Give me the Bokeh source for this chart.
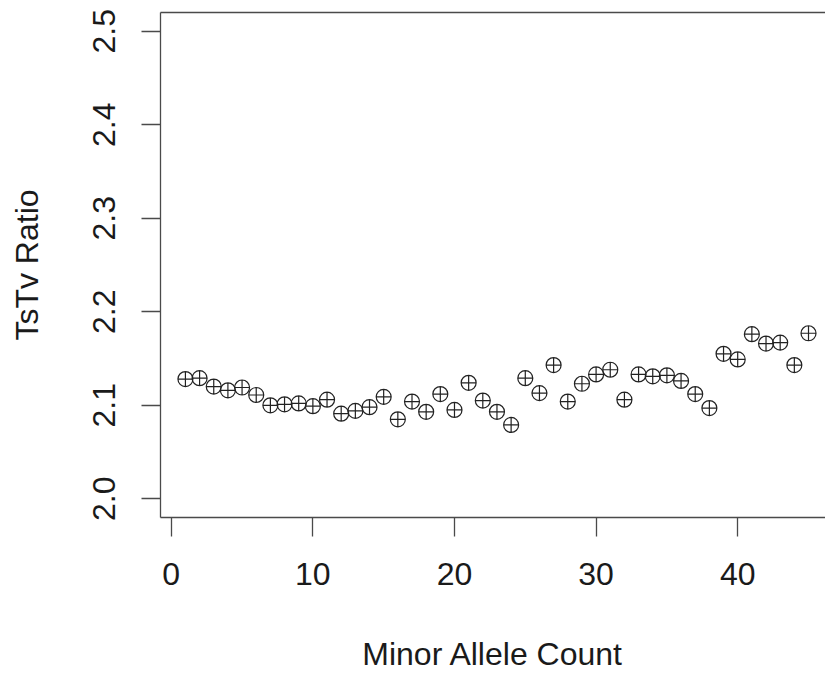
import math
from bokeh.plotting import figure
from bokeh.models import LinearAxis, FixedTicker, Range1d, ColumnDataSource
from bokeh.embed import file_html
from bokeh.resources import INLINE

# Data
minor_allele_count = list(range(1, 46))
tstv_ratio = [
    2.128, 2.129, 2.120, 2.116, 2.119, 2.111, 2.100, 2.101, 2.102, 2.099,
    2.106, 2.091, 2.094, 2.098, 2.109, 2.085, 2.104, 2.093, 2.112, 2.095,
    2.124, 2.105, 2.093, 2.079, 2.129, 2.113, 2.143, 2.104, 2.123, 2.133,
    2.138, 2.106, 2.133, 2.131, 2.132, 2.126, 2.112, 2.097, 2.155, 2.149,
    2.176, 2.166, 2.167, 2.143, 2.177,
]
x_ticks = [0, 10, 20, 30, 40]
y_ticks = [2.0, 2.1, 2.2, 2.3, 2.4, 2.5]
y_tick_labels = ["2.0", "2.1", "2.2", "2.3", "2.4", "2.5"]

FONT = "Liberation Sans"
FS = "32px"
AX = "#4a4a4a"

p = figure(width=825, height=675, output_backend="svg", toolbar_location=None,
           x_axis_location=None, y_axis_location=None,
           x_range=Range1d(-0.76, 46.2), y_range=Range1d(1.98, 2.52),
           min_border_left=160, min_border_right=0, min_border_top=12,
           min_border_bottom=158)
p.grid.visible = False
p.outline_line_color = None
p.background_fill_color = "white"
p.border_fill_color = "white"

def style(ax):
    ax.axis_line_color = AX
    ax.axis_line_width = 1.3
    ax.major_tick_line_color = AX
    ax.major_tick_line_width = 1.3
    ax.major_tick_out = 19
    ax.major_tick_in = 0
    ax.minor_tick_line_color = None
    ax.major_label_text_font = FONT
    ax.major_label_text_font_size = FS
    ax.major_label_text_color = "#1a1a1a"
    ax.axis_label_text_font = FONT
    ax.axis_label_text_font_size = FS
    ax.axis_label_text_font_style = "normal"
    ax.axis_label_text_color = "#1a1a1a"

xaxis = LinearAxis(ticker=FixedTicker(ticks=x_ticks), axis_label="Minor Allele Count")
style(xaxis)
xaxis.major_label_standoff = 26
xaxis.axis_label_standoff = 48
p.add_layout(xaxis, "below")

yaxis = LinearAxis(ticker=FixedTicker(ticks=y_ticks), axis_label="TsTv Ratio")
style(yaxis)
yaxis.major_label_overrides = {t: l for t, l in zip(y_ticks, y_tick_labels)}
yaxis.major_label_orientation = "parallel"
yaxis.major_label_standoff = 26
yaxis.axis_label_standoff = 46
p.add_layout(yaxis, "left")

top = LinearAxis(ticker=FixedTicker(ticks=[]))
top.axis_line_color = AX
top.axis_line_width = 1.3
top.major_tick_line_color = None
top.minor_tick_line_color = None
top.major_label_text_font_size = "0px"
p.add_layout(top, "above")

src = ColumnDataSource(dict(x=minor_allele_count, y=tstv_ratio))
p.scatter("x", "y", source=src, marker="circle_cross", size=15,
          line_color="#222222", line_width=1.2, fill_color=None)

open("out.html", "w").write(file_html(p, INLINE))
